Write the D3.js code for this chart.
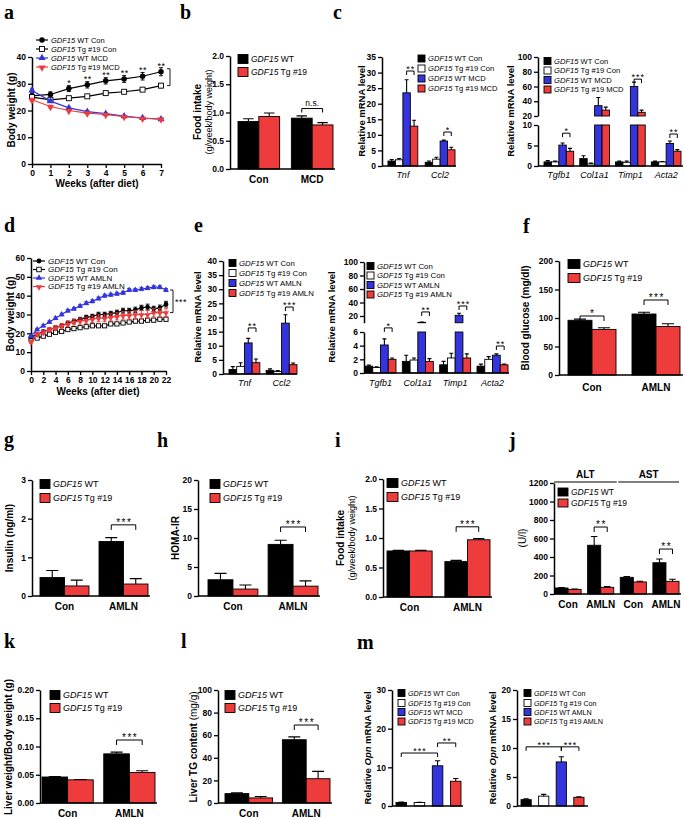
<!DOCTYPE html>
<html><head><meta charset="utf-8">
<script src="https://cdn.jsdelivr.net/npm/d3@7"></script>
<style>body{margin:0;background:#fff}</style>
</head><body><script>
// ================= DATA =================
const GENE="GDF15";
const lgMCD=["WT Con","Tg #19 Con","WT MCD","Tg #19 MCD"];
const lgAMLN=["WT Con","Tg #19 Con","WT AMLN","Tg #19 AMLN"];
const lg2=["WT","Tg #19"];

// a
const aWeeks=[0,1,2,3,4,5,6,7];
const aWTCon=[25.5,26.0,28.2,29.6,31.1,31.8,32.8,34.5];
const aWTConErr=[0.8,1.0,1.1,1.2,1.2,1.3,1.4,1.5];
const aTgCon=[25.0,24.0,24.6,25.3,26.5,27.0,27.8,29.3];
const aTgConErr=[0.5,0.4,0.5,0.5,0.6,0.6,0.7,0.8];
const aWTMCD=[27.5,23.5,21.0,19.6,18.8,17.9,17.2,16.8];
const aWTMCDErr=[0.8,0.5,0.4,0.4,0.3,0.3,0.3,0.3];
const aTgMCD=[24.0,21.5,20.0,19.0,18.5,17.7,17.1,16.8];
const aTgMCDErr=[0.6,0.5,0.4,0.4,0.3,0.3,0.3,0.3];
const aStars=["","","*","**","**","**","**","**"];
const aXTicks=[0,1,2,3,4,5,6,7];
const aYTicks=[0,10,20,30,40];

// b
const bGroups=["Con","MCD"];
const bWT=[0.84,0.90], bWTErr=[0.05,0.04];
const bTg=[0.93,0.78], bTgErr=[0.06,0.04];
const bYTicks=[0,0.5,1.0,1.5,2.0];

// c left
const c1Genes=["Tnf","Ccl2"];
const c1WTCon=[1.6,1.2], c1WTConErr=[0.5,0.4];
const c1TgCon=[2.0,2.2], c1TgConErr=[0.4,0.6];
const c1WTMCD=[23.5,8.0], c1WTMCDErr=[4.2,0.3];
const c1TgMCD=[12.8,5.2], c1TgMCDErr=[1.9,0.8];
const c1BrVal=[30.5,10.9], c1BrTxt=["**","*"];
const c1YTicks=[0,5,10,15,20,25,30,35];

// c right
const c2Genes=["Tgfb1","Col1a1","Timp1","Acta2"];
const c2WTCon=[1.0,1.8,1.0,1.0], c2WTConErr=[0.3,0.7,0.2,0.2];
const c2TgCon=[1.0,0.5,0.9,1.0], c2TgConErr=[0.2,0.2,0.3,0.1];
const c2WTMCD=[5.1,34,60,5.5], c2WTMCDErr=[0.5,11,6,0.6];
const c2TgMCD=[3.6,28,25,3.6], c2TgMCDErr=[0.7,4,3,0.4];
const c2BrGroup=[0,2,3], c2BrVal=[8.0,70,7.8], c2BrSeg=["b","t","b"], c2BrTxt=["*","***","**"];
const c2TopTicks=[20,40,60,80,100], c2BotTicks=[0,5,10];

// d
const dWeeks=[0,1,2,3,4,5,6,7,8,9,10,11,12,13,14,15,16,17,18,19,20,21,22];
const dWTCon=[18,19.5,21,22,23,24,25.5,26.5,27.5,28.5,29,30,30,30.5,31,32,32,32.5,33.5,34,33,33.5,35.5];
const dWTConErr=[0.6,0.6,0.7,0.8,0.8,0.9,1,1,1,1.1,1.1,1.2,1.2,1.2,1.3,1.3,1.3,1.4,1.4,1.5,1.4,1.5,1.5];
const dTgCon=[17,17.5,18.5,19.5,20.5,21,22,22.5,23,23.5,24,24,24,25,25,25.5,26,26.5,26.5,27,27,27.5,27.5];
const dTgConErr=[0.5,0.5,0.5,0.6,0.6,0.6,0.6,0.7,0.7,0.7,0.7,0.7,0.8,0.8,0.8,0.8,0.8,0.9,0.9,0.9,0.9,0.9,1.0];
const dWTAMLN=[18.5,22,24,26,28,30,32,33,34.5,36,37,38.5,40,40.5,41,41.5,43,43,43.5,44,44.5,44.5,43];
const dWTAMLNErr=[0.6,0.6,0.6,0.6,0.7,0.7,0.7,0.7,0.7,0.8,0.8,0.8,0.8,0.8,0.8,0.8,0.8,0.8,0.8,0.8,0.8,0.8,0.8];
const dTgAMLN=[15.5,19.5,20.5,22,23,24,25,26,26.5,27,27.5,28,28,28.5,29,29.5,29.5,30,30,30,31,31,31];
const dTgAMLNErr=[0.8,1,1,1.1,1.2,1.3,1.4,1.5,1.6,1.6,1.7,1.8,1.8,1.9,1.9,2,2,2,2.1,2.1,2.2,2.2,2.3];
const dXTicks=[0,2,4,6,8,10,12,14,16,18,20,22];
const dYTicks=[0,10,20,30,40,50,60];

// e left
const e1Genes=["Tnf","Ccl2"];
const e1WTCon=[1.6,1.3], e1WTConErr=[1.0,0.5];
const e1TgCon=[2.7,0.9], e1TgConErr=[1.3,0.3];
const e1WTAMLN=[11,18], e1WTAMLNErr=[1.6,3.0];
const e1TgAMLN=[4.0,3.3], e1TgAMLNErr=[1.3,0.6];
const e1BrVal=[16.3,23.7], e1BrTxt=["**","***"];
const e1YTicks=[0,5,10,15,20,25,30,35,40];

// e right
const e2Genes=["Tgfb1","Col1a1","Timp1","Acta2"];
const e2WTCon=[1.0,1.7,1.2,1.0], e2WTConErr=[0.15,0.9,0.5,0.3];
const e2TgCon=[0.8,1.9,2.2,2.0], e2TgConErr=[0.1,0.3,0.7,0.4];
const e2WTAMLN=[4.1,10.6,21,2.6], e2WTAMLNErr=[0.9,0.4,3,0.2];
const e2TgAMLN=[2.0,1.7,2.2,1.2], e2TgAMLNErr=[0.2,0.4,0.6,0.1];
const e2BrVal=[6.6,26,34.8,3.95], e2BrSeg=["b","t","t","b"], e2BrTxt=["*","**","***","**"];
const e2TopTicks=[20,40,60,80,100], e2BotTicks=[0,2,4,6];

// f
const fGroups=["Con","AMLN"];
const fWT=[96,107], fWTErr=[2,3];
const fTg=[80,85], fTgErr=[3,5];
const fBrVal=[103.5,131.6], fBrTxt=["*","***"];
const fYTicks=[0,50,100,150,200];

// g
const gWT=[0.48,1.41], gWTErr=[0.18,0.10];
const gTg=[0.26,0.31], gTgErr=[0.15,0.14];
const gYTicks=[0,1,2,3];
// h
const hWT=[2.8,8.9], hWTErr=[1.1,0.7];
const hTg=[1.2,1.7], hTgErr=[0.7,0.9];
const hYTicks=[0,5,10,15,20];
// i
const iWT=[0.78,0.60], iWTErr=[0.01,0.02];
const iTg=[0.78,0.97], iTgErr=[0.01,0.02];
const iYTicks=[0,0.5,1.0,1.5,2.0];
// j
const jGroups=["Con","AMLN","Con","AMLN"];
const jHeaders=["ALT","AST"];
const jWT=[65,527,180,338], jWTErr=[5,95,10,40];
const jTg=[50,72,130,137], jTgErr=[4,8,8,22];
const jBrGroup=[1,3], jBrVal=[724,486];
const jYTicks=[0,200,400,600,800,1000,1200];
// k
const kWT=[0.046,0.087], kWTErr=[0.001,0.003];
const kTg=[0.041,0.054], kTgErr=[0.0005,0.003];
const kYTicks=[0,0.05,0.10,0.15,0.20];
// l
const lWT=[8.3,56], lWTErr=[0.7,2.5];
const lTg=[4.5,21.5], lTgErr=[1.3,6.5];
const lYTicks=[0,20,40,60,80,100];
// m
const m1Vals=[0.9,0.9,10.4,6.4], m1Errs=[0.1,0.05,1.3,0.7];
const m1Br=[[0,2,13.7,"***"],[2,3,16.3,"**"]];
const m1YTicks=[0,10,20,30];
const m2Vals=[1.1,1.7,7.6,1.5], m2Errs=[0.15,0.3,0.9,0.1];
const m2Br=[[0,2,10.2,"***"],[2,3,10.2,"***"]];
const m2YTicks=[0,5,10,15,20];

// ================= DRAWING =================
const W=685,H=819;
const RED="#ee3b3b", BLUE="#3434dc";
const FF='"Liberation Sans", Arial, Helvetica, sans-serif';
const fills4=["#000","#fff",BLUE,RED];
const fills2=["#000",RED];
const svg=d3.select("body").append("svg").attr("width",W).attr("height",H).style("display","block").attr("font-family",FF);
svg.append("rect").attr("width",W).attr("height",H).attr("fill","#fff");

function letter(t,x,y){svg.append("text").attr("x",x).attr("y",y).attr("font-family",'"Liberation Serif","Times New Roman",serif').attr("font-weight","bold").attr("font-size",20).text(t);}
function styleAxis(g,fs){
  g.attr("font-family",null).attr("font-size",null);
  g.select(".domain").attr("stroke","#000").attr("stroke-width",1.5);
  g.selectAll(".tick line").attr("stroke","#000").attr("stroke-width",1.3);
  g.selectAll(".tick text").attr("font-size",fs||8.5).attr("font-weight","bold").attr("font-family",FF).attr("fill","#000");
}
function yAxis(scale,x,ticks,fmt){
  const g=svg.append("g").attr("transform",`translate(${x},0)`).call(d3.axisLeft(scale).tickValues(ticks).tickFormat(fmt).tickSize(4).tickSizeOuter(0).tickPadding(2));
  styleAxis(g);return g;
}
function yTitle(x,yc,parts,fs){
  const t=svg.append("text").attr("transform",`translate(${x},${yc}) rotate(-90)`).attr("text-anchor","middle").attr("dy","0.35em").attr("font-size",fs||10);
  parts.forEach(p=>t.append("tspan").attr("font-weight",p.w||"bold").attr("font-style",p.i?"italic":"normal").text(p.t));
}
function bracket(x1,x2,y,txt,fs,ls,drop){
  drop=drop||4;ls=ls||0;
  svg.append("path").attr("d",`M${x1},${y+drop}V${y}H${x2}V${y+drop}`).attr("fill","none").attr("stroke","#000").attr("stroke-width",1);
  const star=txt.indexOf("*")>=0;
  svg.append("text").attr("x",(x1+x2)/2+ls/2).attr("y",star?y+fs*0.12:y-2.5).attr("text-anchor","middle").attr("font-size",fs).attr("letter-spacing",ls).text(txt);
}
function legendBox(x,ys,labels,fills,sw,sh,fs){
  labels.forEach((l,i)=>{
    svg.append("rect").attr("x",x).attr("y",ys[i]-sh/2).attr("width",sw).attr("height",sh).attr("fill",fills[i]).attr("stroke","#000").attr("stroke-width",0.9);
    const t=svg.append("text").attr("x",x+sw+3).attr("y",ys[i]).attr("dy","0.35em").attr("font-size",fs);
    t.append("tspan").attr("font-style","italic").text(GENE);
    t.append("tspan").text(" "+l);
  });
}
function barPanel(p){
  const xg=d3.scaleBand().domain(d3.range(p.groups.length)).range(p.range).paddingInner(p.padIn).paddingOuter(0);
  const xs=d3.scaleBand().domain(d3.range(p.series.length)).range([0,xg.bandwidth()]).paddingInner(p.subPad||0);
  const bw=xs.bandwidth();
  const yb=p.yBot||p.y, yt=p.yTop;
  const botMax=yt?yb.domain()[1]:Infinity, topMin=yt?yt.domain()[0]:0;
  const errs=[];
  p.series.forEach((s,si)=>{
    s.v.forEach((v,gi)=>{
      const x=xg(gi)+xs(si);
      const rs=[];let sc=yb;
      if(v<=botMax){rs.push([yb(v),yb(0)]);}
      else{rs.push([yb(botMax),yb(0)]);rs.push([yt(v),yt(topMin)]);sc=yt;}
      rs.forEach(r=>svg.append("rect").attr("x",x).attr("y",r[0]).attr("width",bw).attr("height",Math.max(0,r[1]-r[0])).attr("fill",s.fill).attr("stroke","#000").attr("stroke-width",0.9));
      errs.push({x:x+bw/2,y0:sc(v),y1:sc(v+s.e[gi])});
    });
  });
  const cw=Math.max(4,Math.min(bw*0.5,12))/2;
  errs.forEach(d=>svg.append("path").attr("d",`M${d.x},${d.y0}V${d.y1}M${d.x-cw},${d.y1}H${d.x+cw}`).attr("stroke","#000").attr("stroke-width",1.1).attr("fill","none"));
  svg.append("path").attr("d",`M${p.ax},${yb(0)}H${p.axEnd}`).attr("stroke","#000").attr("stroke-width",1.5);
  if(p.labels){
    p.groups.forEach((gn,gi)=>svg.append("text").attr("x",xg(gi)+xg.bandwidth()/2).attr("y",yb(0)+(p.labDy||14)).attr("text-anchor","middle")
      .attr("font-size",p.labFs||10).attr("font-weight",p.italic?"normal":"bold").attr("font-style",p.italic?"italic":"normal").text(gn));
  }
  return {xg,xs,cx:(gi,si)=>xg(gi)+xs(si)+bw/2};
}
function drawMarker(g,kind,x,y,s){
  if(kind==="circle") g.append("circle").attr("cx",x).attr("cy",y).attr("r",s*0.55).attr("fill","#000");
  else if(kind==="square") g.append("rect").attr("x",x-s/2).attr("y",y-s/2).attr("width",s).attr("height",s).attr("fill","#fff").attr("stroke","#000").attr("stroke-width",0.9);
  else if(kind==="up") g.append("path").attr("d",d3.symbol().type(d3.symbolTriangle).size(s*s*0.9)()).attr("transform",`translate(${x},${y})`).attr("fill",BLUE);
  else g.append("path").attr("d",d3.symbol().type(d3.symbolTriangle).size(s*s*0.9)()).attr("transform",`translate(${x},${y+0.5}) rotate(180)`).attr("fill",RED);
}
function lineChart(p){
  const x=d3.scaleLinear().domain(p.xDom).range(p.xR);
  const y=d3.scaleLinear().domain(p.yDom).range(p.yR);
  yAxis(y,p.xR[0],p.yTicks,d3.format("d"));
  const gx=svg.append("g").attr("transform",`translate(0,${p.yR[0]})`).call(d3.axisBottom(x).tickValues(p.xTicks).tickFormat(d3.format("d")).tickSize(4).tickSizeOuter(0).tickPadding(2));
  styleAxis(gx);
  const g=svg.append("g");
  p.series.forEach(s=>{
    const pts=p.weeks.map((w,i)=>({x:x(w),v:s.v[i],e:s.e[i]}));
    pts.forEach(d=>g.append("path").attr("d",`M${d.x-2},${y(d.v+d.e)}H${d.x+2}M${d.x},${y(d.v+d.e)}V${y(d.v-d.e)}M${d.x-2},${y(d.v-d.e)}H${d.x+2}`).attr("stroke",s.color).attr("stroke-width",0.9).attr("fill","none"));
    g.append("path").datum(pts).attr("d",d3.line().x(d=>d.x).y(d=>y(d.v))).attr("stroke",s.color).attr("stroke-width",1.2).attr("fill","none");
    pts.forEach(d=>drawMarker(g,s.kind,d.x,y(d.v),p.ms));
  });
  return {x,y};
}
function lineLegend(x0,x1,tx,ys,labels,kinds,colors,fs,ms){
  labels.forEach((l,i)=>{
    svg.append("path").attr("d",`M${x0},${ys[i]}H${x1}`).attr("stroke",colors[i]).attr("stroke-width",1.2);
    drawMarker(svg,kinds[i],(x0+x1)/2,ys[i],ms);
    const t=svg.append("text").attr("x",tx).attr("y",ys[i]).attr("dy","0.35em").attr("font-size",fs);
    t.append("tspan").attr("font-style","italic").text(GENE);
    t.append("tspan").text(" "+l);
  });
}
function xTitle(x,y,txt){svg.append("text").attr("x",x).attr("y",y).attr("text-anchor","middle").attr("font-size",10).attr("font-weight","bold").text(txt);}

// ---------- panel letters ----------
[["a",4,19],["b",180,19],["c",333,19],["d",4,232],["e",194,232],["f",523,233],["g",4,446],["h",157,447],["i",335,447],["j",509,447],["k",4,648],["l",181,648],["m",357,649]].forEach(d=>letter(...d));

// ---------- a ----------
{
  const L=lineChart({xDom:[0,7],xR:[32,161],yDom:[0,40],yR:[164,57],xTicks:aXTicks,yTicks:aYTicks,weeks:aWeeks,ms:5,
    series:[{v:aWTCon,e:aWTConErr,color:"#000",kind:"circle"},{v:aTgCon,e:aTgConErr,color:"#000",kind:"square"},
            {v:aWTMCD,e:aWTMCDErr,color:BLUE,kind:"up"},{v:aTgMCD,e:aTgMCDErr,color:RED,kind:"down"}]});
  aStars.forEach((s,i)=>{ if(s) svg.append("text").attr("x",L.x(aWeeks[i])+0.5).attr("y",L.y(aWTCon[i]+aWTConErr[i])+0.8).attr("text-anchor","middle").attr("font-size",9).attr("letter-spacing",0.5).text(s);});
  const yA=L.y(aWTCon[7]), yB=L.y(aTgCon[7]);
  svg.append("path").attr("d",`M167,${yA-3}H170V${yB}H167`).attr("fill","none").attr("stroke","#000").attr("stroke-width",0.9);
  lineLegend(36,48,51,[40,49,58,67],lgMCD,["circle","square","up","down"],["#000","#000",BLUE,RED],7.5,5);
  xTitle(97,187,"Weeks (after diet)");
  yTitle(11,110,[{t:"Body weight (g)"}]);
}
// ---------- b ----------
{
  const y=d3.scaleLinear().domain([0,2]).range([169,56]);
  yAxis(y,230,bYTicks,d3.format(".1f"));
  const P=barPanel({groups:bGroups,series:[{v:bWT,e:bWTErr,fill:"#000"},{v:bTg,e:bTgErr,fill:RED}],range:[238,333],padIn:0.22,y,ax:230,axEnd:335,labels:true,labDy:14});
  bracket(P.cx(1,0),P.cx(1,1),y(1.07),"n.s.",8.5);
  legendBox(238,[59,72],lg2,fills2,10,9,8.5);
  yTitle(197,112,[{t:"Food intake"}]);
  yTitle(208.5,112,[{t:"(g/week/body weight)",w:"normal"}],9);
}
// ---------- c left ----------
{
  const y=d3.scaleLinear().domain([0,35]).range([166,57]);
  yAxis(y,382,c1YTicks,d3.format("d"));
  const P=barPanel({groups:c1Genes,series:[{v:c1WTCon,e:c1WTConErr,fill:fills4[0]},{v:c1TgCon,e:c1TgConErr,fill:fills4[1]},{v:c1WTMCD,e:c1WTMCDErr,fill:fills4[2]},{v:c1TgMCD,e:c1TgMCDErr,fill:fills4[3]}],
    range:[388,455],padIn:0.2,y,ax:382,axEnd:456,labels:true,italic:true,labFs:9,labDy:12});
  c1BrVal.forEach((v,gi)=>bracket(P.cx(gi,2),P.cx(gi,3),y(v),c1BrTxt[gi],9,1));
  legendBox(418,[58.5,68.5,78.5,88.5],lgMCD,fills4,7,7,7.6);
  yTitle(362,111,[{t:"Relative mRNA level"}],9.5);
}
// ---------- c right ----------
{
  const yt=d3.scaleLinear().domain([20,100]).range([116,57]);
  const yb=d3.scaleLinear().domain([0,10]).range([166,125]);
  yAxis(yt,538,c2TopTicks,d3.format("d"));yAxis(yb,538,c2BotTicks,d3.format("d"));
  const P=barPanel({groups:c2Genes,series:[{v:c2WTCon,e:c2WTConErr,fill:fills4[0]},{v:c2TgCon,e:c2TgConErr,fill:fills4[1]},{v:c2WTMCD,e:c2WTMCDErr,fill:fills4[2]},{v:c2TgMCD,e:c2TgMCDErr,fill:fills4[3]}],
    range:[544,681],padIn:0.17,yTop:yt,yBot:yb,ax:538,axEnd:683,labels:true,italic:true,labFs:9,labDy:12});
  c2BrGroup.forEach((gi,k)=>bracket(P.cx(gi,2),P.cx(gi,3),(c2BrSeg[k]==="t"?yt:yb)(c2BrVal[k]),c2BrTxt[k],9,1));
  legendBox(544,[61,70.5,80,89.5],lgMCD,fills4,7,7,7.6);
  yTitle(511,111,[{t:"Relative mRNA level"}],9.5);
}
// ---------- d ----------
{
  const L=lineChart({xDom:[0,22],xR:[31,166],yDom:[0,60],yR:[371,258],xTicks:dXTicks,yTicks:dYTicks,weeks:dWeeks,ms:4.2,
    series:[{v:dTgCon,e:dTgConErr,color:"#000",kind:"square"},{v:dWTCon,e:dWTConErr,color:"#000",kind:"circle"},
            {v:dTgAMLN,e:dTgAMLNErr,color:RED,kind:"down"},{v:dWTAMLN,e:dWTAMLNErr,color:BLUE,kind:"up"}]});
  const yA=L.y(dWTAMLN[22]), yB=L.y(dTgAMLN[22]);
  svg.append("path").attr("d",`M170,${yA}H173V${yB}H170`).attr("fill","none").attr("stroke","#000").attr("stroke-width",0.9);
  svg.append("text").attr("x",175).attr("y",(yA+yB)/2+4).attr("font-size",9).attr("letter-spacing",0.5).text("***");
  lineLegend(33,45,48,[261,269.5,278,286.5],lgAMLN,["circle","square","up","down"],["#000","#000",BLUE,RED],8,4.5);
  xTitle(98,395,"Weeks (after diet)");
  yTitle(10,314,[{t:"Body weight (g)"}]);
}
// ---------- e left ----------
{
  const y=d3.scaleLinear().domain([0,40]).range([374,261]);
  yAxis(y,223,e1YTicks,d3.format("d"));
  const P=barPanel({groups:e1Genes,series:[{v:e1WTCon,e:e1WTConErr,fill:fills4[0]},{v:e1TgCon,e:e1TgConErr,fill:fills4[1]},{v:e1WTAMLN,e:e1WTAMLNErr,fill:fills4[2]},{v:e1TgAMLN,e:e1TgAMLNErr,fill:fills4[3]}],
    range:[229,297],padIn:0.17,y,ax:223,axEnd:297,labels:true,italic:true,labFs:9,labDy:12});
  e1BrVal.forEach((v,gi)=>bracket(P.cx(gi,2),P.cx(gi,3),y(v),e1BrTxt[gi],9,1));
  legendBox(229,[263,273,283,293],lgAMLN,fills4,7,7,7.8);
  yTitle(198,317,[{t:"Relative mRNA level"}],9.5);
}
// ---------- e right ----------
{
  const yt=d3.scaleLinear().domain([10,100]).range([322.75,262]);
  const yb=d3.scaleLinear().domain([0,6]).range([373,332]);
  yAxis(yt,364,e2TopTicks,d3.format("d"));yAxis(yb,364,e2BotTicks,d3.format("d"));
  const P=barPanel({groups:e2Genes,series:[{v:e2WTCon,e:e2WTConErr,fill:fills4[0]},{v:e2TgCon,e:e2TgConErr,fill:fills4[1]},{v:e2WTAMLN,e:e2WTAMLNErr,fill:fills4[2]},{v:e2TgAMLN,e:e2TgAMLNErr,fill:fills4[3]}],
    range:[365,508],padIn:0.17,yTop:yt,yBot:yb,ax:364,axEnd:509,labels:true,italic:true,labFs:9,labDy:13});
  e2BrVal.forEach((v,gi)=>bracket(P.cx(gi,2),P.cx(gi,3),(e2BrSeg[gi]==="t"?yt:yb)(v),e2BrTxt[gi],9,1));
  legendBox(367,[266,275.5,285,294.5],lgAMLN,fills4,7,7,7.8);
  yTitle(332,317,[{t:"Relative mRNA level"}],9.5);
}
// ---------- f ----------
{
  const y=d3.scaleLinear().domain([0,200]).range([375,261]);
  yAxis(y,559,fYTicks,d3.format("d"));
  const P=barPanel({groups:fGroups,series:[{v:fWT,e:fWTErr,fill:"#000"},{v:fTg,e:fTgErr,fill:RED}],range:[568,680],padIn:0.25,y,ax:559,axEnd:683,labels:true,labDy:16});
  fBrVal.forEach((v,gi)=>bracket(P.cx(gi,0),P.cx(gi,1),y(v),fBrTxt[gi],10,1.5,5));
  legendBox(568,[264,278],lg2,fills2,12,9,9);
  yTitle(525,318,[{t:"Blood glucose (mg/dl)"}]);
}
// ---------- g ----------
{
  const y=d3.scaleLinear().domain([0,3]).range([596,480]);
  yAxis(y,32,gYTicks,d3.format("d"));
  const P=barPanel({groups:fGroups,series:[{v:gWT,e:gWTErr,fill:"#000"},{v:gTg,e:gTgErr,fill:RED}],range:[40,148],padIn:0.17,y,ax:32,axEnd:150,labels:true,labDy:14});
  bracket(P.cx(1,0),P.cx(1,1),y(1.84),"***",10,1.5,5);
  legendBox(40,[484,498],lg2,fills2,10,9,9);
  yTitle(9,538,[{t:"Insulin (ng/ml)"}]);
}
// ---------- h ----------
{
  const y=d3.scaleLinear().domain([0,20]).range([596,480]);
  yAxis(y,198,hYTicks,d3.format("d"));
  const P=barPanel({groups:fGroups,series:[{v:hWT,e:hWTErr,fill:"#000"},{v:hTg,e:hTgErr,fill:RED}],range:[208,318],padIn:0.17,y,ax:198,axEnd:320,labels:true,labDy:14});
  bracket(P.cx(1,0),P.cx(1,1),y(11.9),"***",10,1.5,5);
  legendBox(210,[484,498],lg2,fills2,10,9,9);
  yTitle(175,538,[{t:"HOMA-IR"}]);
}
// ---------- i ----------
{
  const y=d3.scaleLinear().domain([0,2]).range([597,479]);
  yAxis(y,383,iYTicks,d3.format(".1f"));
  const P=barPanel({groups:fGroups,series:[{v:iWT,e:iWTErr,fill:"#000"},{v:iTg,e:iTgErr,fill:RED}],range:[387,490],padIn:0.22,y,ax:383,axEnd:492,labels:true,labDy:14});
  bracket(P.cx(1,0),P.cx(1,1),y(1.19),"***",10,1.5,5);
  legendBox(387,[483,497],lg2,fills2,11,9,9);
  yTitle(340,538,[{t:"Food intake"}]);
  yTitle(351.5,538,[{t:"(g/week/body weight)",w:"normal"}],9);
}
// ---------- j ----------
{
  const y=d3.scaleLinear().domain([0,1200]).range([594,483]);
  yAxis(y,554,jYTicks,d3.format("d"));
  const P=barPanel({groups:jGroups,series:[{v:jWT,e:jWTErr,fill:"#000"},{v:jTg,e:jTgErr,fill:RED}],range:[555,679],padIn:0.2,y,ax:554,axEnd:681,labels:true,labDy:14});
  jBrGroup.forEach((gi,k)=>bracket(P.cx(gi,0),P.cx(gi,1),y(jBrVal[k]),"**",10,1.5,5));
  const bwg=P.xg.bandwidth();
  const hx=[[554,P.xg(1)+bwg+3],[P.xg(2)-2,P.xg(3)+bwg]];
  jHeaders.forEach((h,k)=>{
    svg.append("path").attr("d",`M${hx[k][0]},482H${hx[k][1]}`).attr("stroke","#000").attr("stroke-width",1.2);
    svg.append("text").attr("x",(hx[k][0]+hx[k][1])/2).attr("y",478).attr("text-anchor","middle").attr("font-size",10).attr("font-weight","bold").text(h);
  });
  legendBox(558,[492,503],lg2,fills2,10,8,8.5);
  yTitle(522,538,[{t:"(U/l)",w:"normal"}]);
}
// ---------- k ----------
{
  const y=d3.scaleLinear().domain([0,0.2]).range([803,690]);
  yAxis(y,40,kYTicks,d3.format(".2f"));
  const P=barPanel({groups:fGroups,series:[{v:kWT,e:kWTErr,fill:"#000"},{v:kTg,e:kTgErr,fill:RED}],range:[42,155],padIn:0.17,y,ax:40,axEnd:157,labels:true,labDy:14});
  bracket(P.cx(1,0),P.cx(1,1),y(0.1115),"***",10,1.5,5);
  legendBox(50,[695,708],lg2,fills2,10,9,9);
  yTitle(8,747,[{t:"Liver weight/Body weight (g)"}]);
}
// ---------- l ----------
{
  const y=d3.scaleLinear().domain([0,100]).range([803,690]);
  yAxis(y,218,lYTicks,d3.format("d"));
  const P=barPanel({groups:fGroups,series:[{v:lWT,e:lWTErr,fill:"#000"},{v:lTg,e:lTgErr,fill:RED}],range:[225,330],padIn:0.17,y,ax:218,axEnd:332,labels:true,labDy:14});
  bracket(P.cx(1,0),P.cx(1,1),y(69),"***",10,1.5,5);
  legendBox(225,[695,708],lg2,fills2,10,9,9);
  yTitle(193,747,[{t:"Liver TG content "},{t:"(mg/g)",w:"normal"}]);
}
// ---------- m ----------
{
  const y=d3.scaleLinear().domain([0,30]).range([806,690]);
  yAxis(y,392,m1YTicks,d3.format("d"));
  const P=barPanel({groups:[""],series:m1Vals.map((v,i)=>({v:[v],e:[m1Errs[i]],fill:fills4[i]})),range:[396,461],padIn:0,subPad:0.42,y,ax:392,axEnd:463,labels:false});
  m1Br.forEach(b=>bracket(P.cx(0,b[0]),P.cx(0,b[1]),y(b[2]),b[3],9,1,4));
  legendBox(398,[693,703,712,721.5],lgMCD,fills4,7,7,7.2);
  yTitle(368,748,[{t:"Relative "},{t:"Opn",i:true},{t:" mRNA level"}],9.5);
}
{
  const y=d3.scaleLinear().domain([0,20]).range([806,690]);
  yAxis(y,517,m2YTicks,d3.format("d"));
  const P=barPanel({groups:[""],series:m2Vals.map((v,i)=>({v:[v],e:[m2Errs[i]],fill:fills4[i]})),range:[521,584],padIn:0,subPad:0.42,y,ax:517,axEnd:588,labels:false});
  m2Br.forEach(b=>bracket(P.cx(0,b[0]),P.cx(0,b[1]),y(b[2]),b[3],9,1,4));
  legendBox(524,[693,703,712,721.5],lgAMLN,fills4,7,7,7.2);
  yTitle(493,748,[{t:"Relative "},{t:"Opn",i:true},{t:" mRNA level"}],9.5);
}
</script></body></html>
